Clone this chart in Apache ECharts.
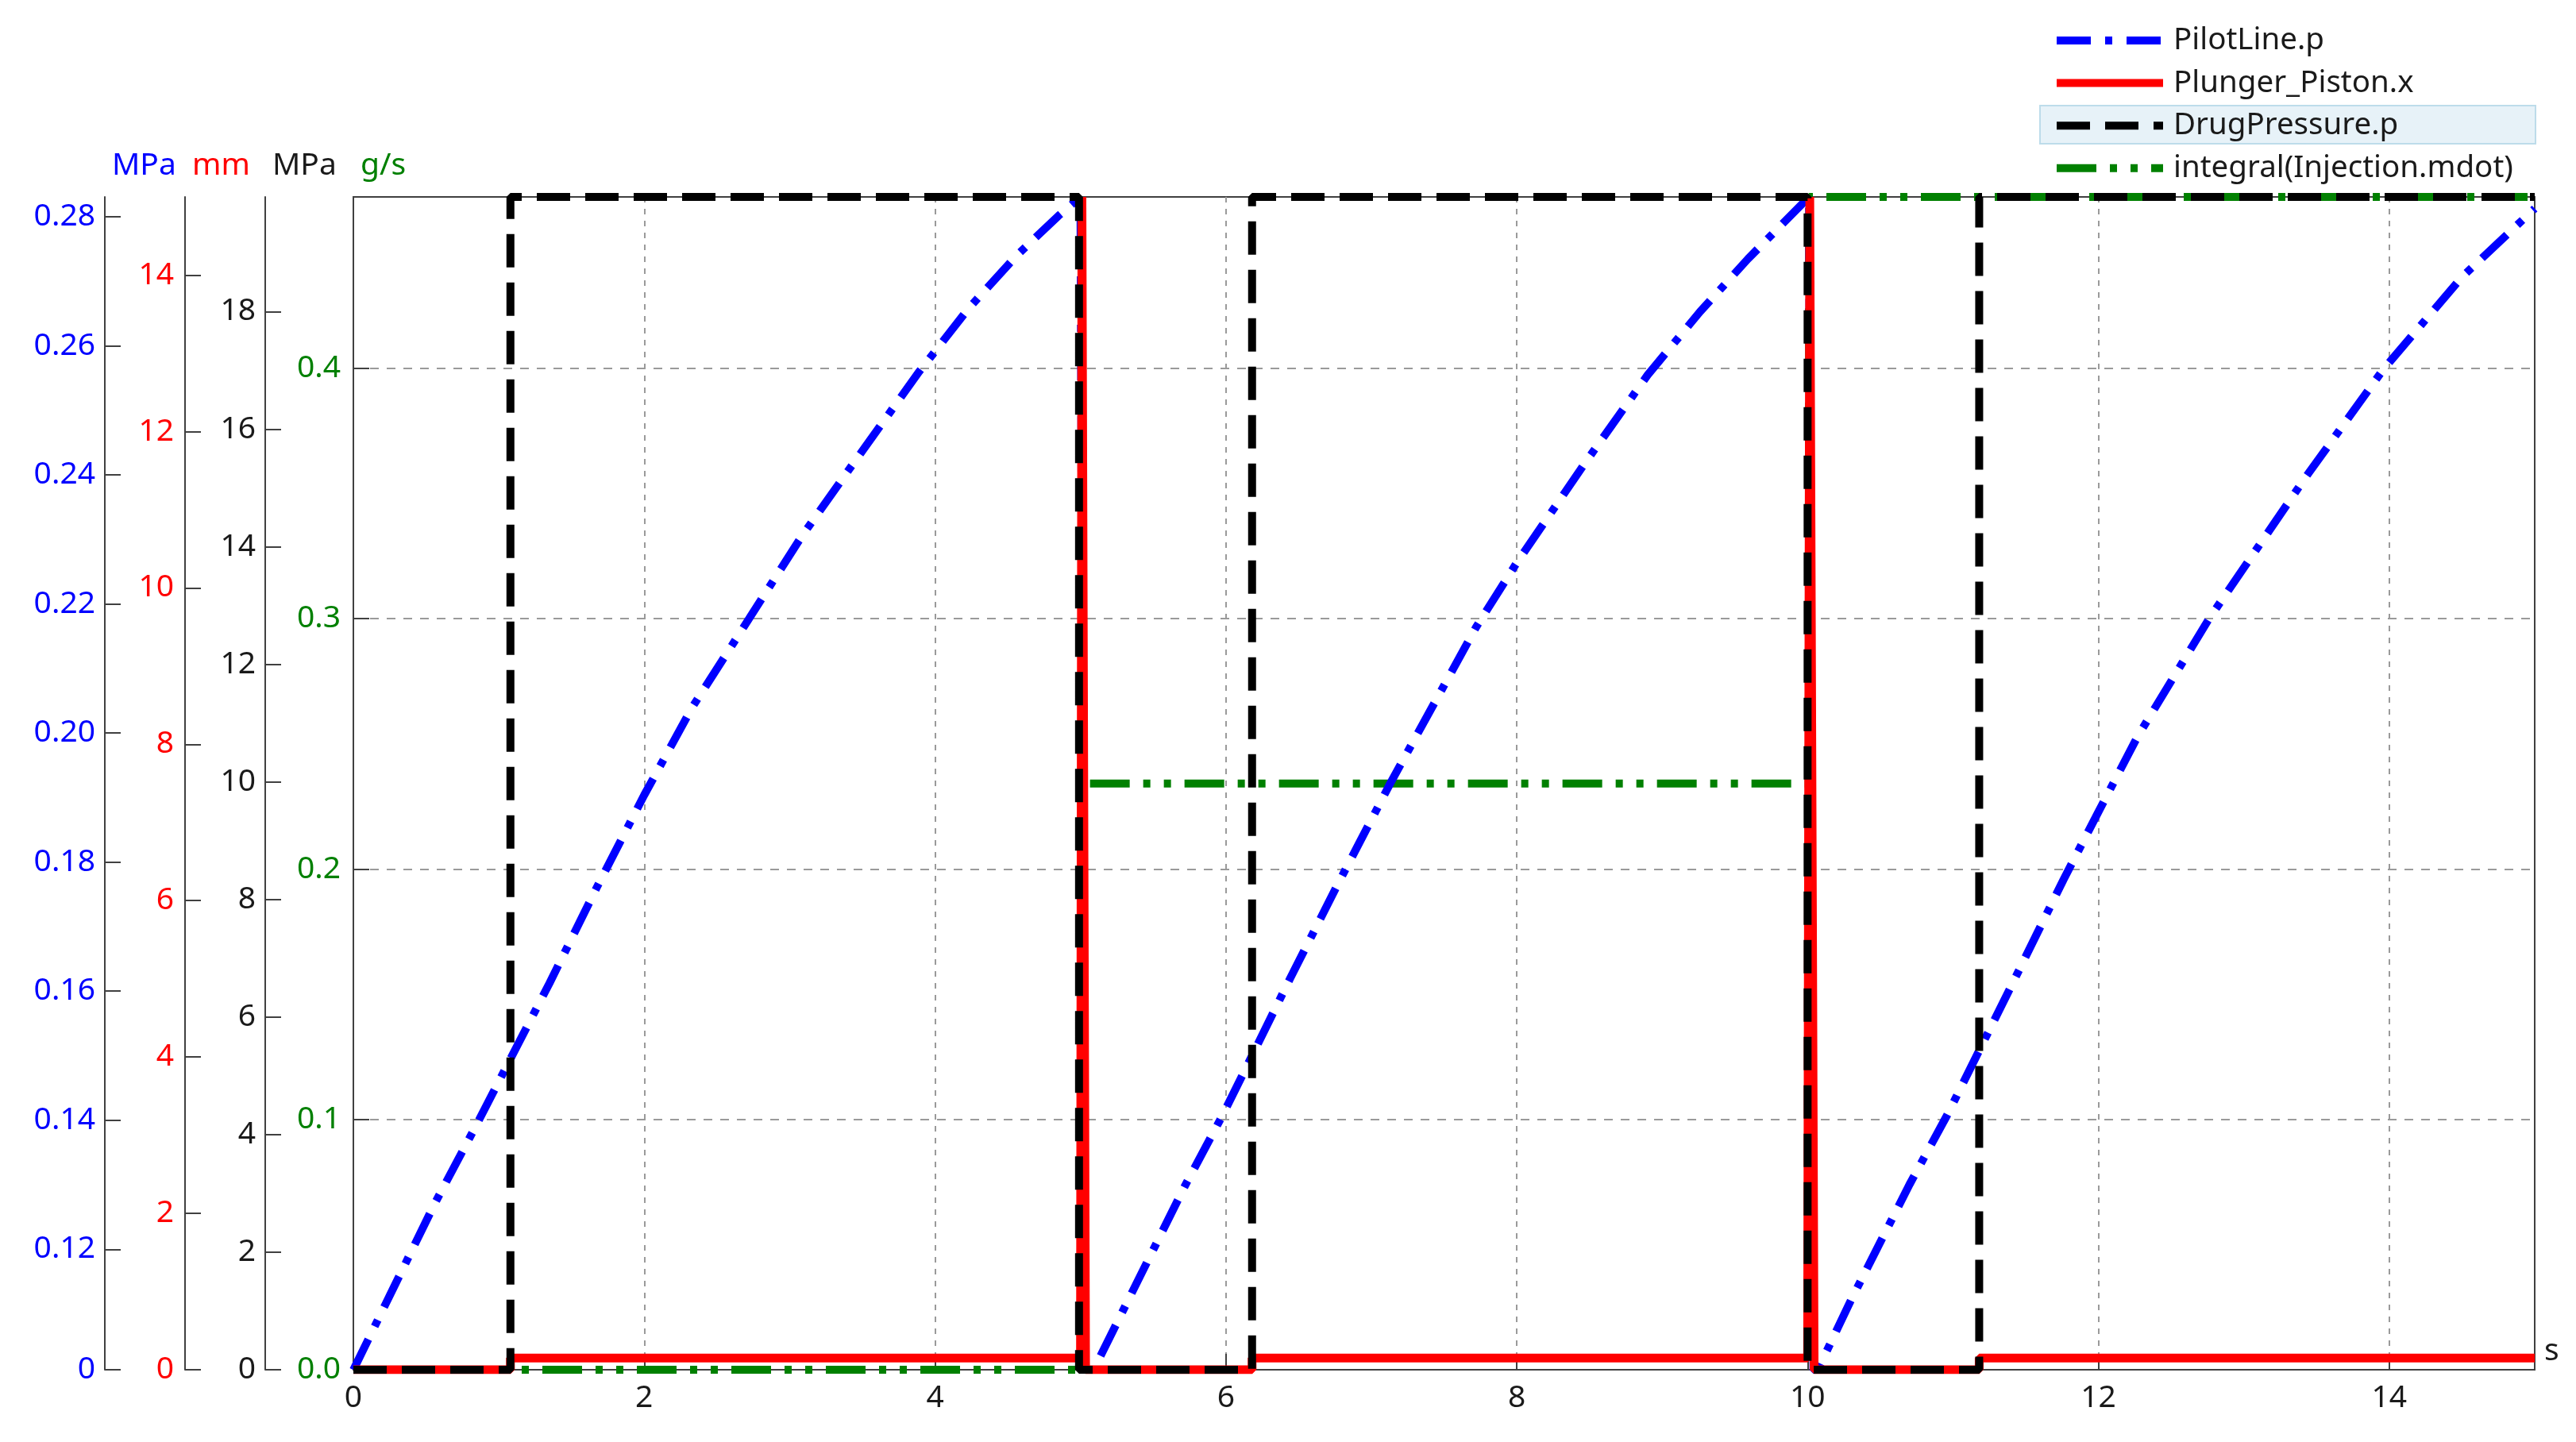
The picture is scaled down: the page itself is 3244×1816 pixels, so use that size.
<!DOCTYPE html>
<html>
<head>
<meta charset="utf-8">
<script src="https://cdn.jsdelivr.net/npm/echarts@6/dist/echarts.min.js"></script>
<style>
html,body{margin:0;padding:0;background:#ffffff;}
#chart{width:3244px;height:1816px;}
</style>
</head>
<body>
<div id="chart"></div>
<script>
// ---------------- data ----------------
// PilotLine.p  [MPa]
const pilotT = [0, 0.56, 0.84, 1.08, 1.35, 1.67, 2.00, 2.33, 2.72, 3.08, 3.41, 3.89, 4.23, 4.56, 4.85, 5.00,
                5.03, 5.09, 5.33, 5.72, 5.98, 6.18, 6.44, 6.77, 7.13, 7.72, 8.00, 8.48, 8.90, 9.26, 9.59, 10.01,
                10.04, 10.07, 10.30, 10.70, 10.96, 11.18, 11.42, 11.76, 12.00, 12.27, 12.76, 13.42, 13.96, 14.50, 15.00];
const pilotP = [0.1013, 0.1271, 0.1390, 0.1495, 0.1613, 0.1759, 0.1904, 0.2040, 0.2177, 0.2304, 0.2409, 0.2560, 0.2658, 0.2740, 0.2802, 0.2831,
                0.1013, 0.1013, 0.1122, 0.1299, 0.1409, 0.1500, 0.1619, 0.1766, 0.1922, 0.2164, 0.2264, 0.2422, 0.2555, 0.2653, 0.2735, 0.2831,
                0.1013, 0.1013, 0.1122, 0.1300, 0.1408, 0.1508, 0.1617, 0.1773, 0.1878, 0.1995, 0.2177, 0.2395, 0.2564, 0.2707, 0.2813];

// Plunger_Piston.x [mm]
const plungerT = [0, 1.08, 1.08, 5.00, 5.01, 5.035, 6.18, 6.18, 10.00, 10.015, 10.045, 11.18, 11.18, 15.0];
const plungerX = [0, 0,    0.15, 0.15, 15.0, 0,     0,    0.15, 0.15,  15.0,   0,      0,     0.15,  0.15];

// DrugPressure.p [MPa]
const drugT = [0, 1.08, 1.08,  4.99,  4.99, 6.18, 6.18,  10.00, 10.00, 11.18, 11.18, 15.0];
const drugP = [0, 0,    19.95, 19.95, 0,    0,    19.95, 19.95, 0,     0,     19.95, 19.95];

// integral(Injection.mdot) [g/s]
const injT = [0, 5.02, 5.02,   10.01,  10.01,  15.0];
const injM = [0, 0,    0.2342, 0.2342, 0.4685, 0.4685];

// axis tick values and tick labels
const timeTicks = [0, 2, 4, 6, 8, 10, 12, 14];
const timeLabels = ['0', '2', '4', '6', '8', '10', '12', '14'];
const blueTicks = [0.101325, 0.12, 0.14, 0.16, 0.18, 0.20, 0.22, 0.24, 0.26, 0.28];
const blueLabels = ['0', '0.12', '0.14', '0.16', '0.18', '0.20', '0.22', '0.24', '0.26', '0.28'];
const redTicks = [0, 2, 4, 6, 8, 10, 12, 14];
const redLabels = ['0', '2', '4', '6', '8', '10', '12', '14'];
const blackTicks = [0, 2, 4, 6, 8, 10, 12, 14, 16, 18];
const blackLabels = ['0', '2', '4', '6', '8', '10', '12', '14', '16', '18'];
const greenTicks = [0, 0.1, 0.2, 0.3, 0.4];
const greenLabels = ['0.0', '0.1', '0.2', '0.3', '0.4'];

const seriesNames = ['PilotLine.p', 'Plunger_Piston.x', 'DrugPressure.p', 'integral(Injection.mdot)'];
const unitNames = ['MPa', 'mm', 'MPa', 'g/s'];

// ---------------- styling ----------------
const FONT = '"Noto Sans", "Open Sans", "DejaVu Sans", sans-serif';
const FS = 39;
const AX = '#404040';
const C_BLUE = '#0000ff', C_RED = '#ff0000', C_BLACK = '#000000', C_GREEN = '#008000';

function pairs(t, v) { return t.map((x, i) => [x, v[i]]); }
function labelFmt(ticks, labels) {
  return function (val) {
    for (let i = 0; i < ticks.length; i++) {
      if (Math.abs(ticks[i] - val) < 1e-6) return labels[i];
    }
    return '';
  };
}

function yAxisDef(min, max, offset, ticks, labels, unit, color, labelMargin, showSplit) {
  return {
    type: 'value', position: 'left', offset: offset, min: min, max: max,
    name: unit, nameLocation: 'end', nameGap: 39,
    nameTextStyle: { color: color, fontSize: FS, fontFamily: FONT, align: 'left', verticalAlign: 'middle', padding: [0, 0, 0, 9] },
    axisLine: { show: true, onZero: false, lineStyle: { color: AX, width: 2 } },
    axisTick: { show: true, inside: true, length: 20, customValues: ticks, lineStyle: { color: AX, width: 2 } },
    axisLabel: { show: true, customValues: ticks, formatter: labelFmt(ticks, labels), color: color, fontSize: FS, fontFamily: FONT, margin: labelMargin },
    splitLine: { show: showSplit, lineStyle: { color: '#9a9a9a', width: 2, type: [11, 10] } }
  };
}

const chart = echarts.init(document.getElementById('chart'), null, { renderer: 'canvas' });

const option = {
  animation: false,
  backgroundColor: '#ffffff',
  textStyle: { fontFamily: FONT },
  grid: {
    left: 445, right: 52, top: 248, bottom: 91,
    show: true, borderColor: AX, borderWidth: 2, backgroundColor: 'rgba(0,0,0,0)',
    outerBoundsMode: 'none', containLabel: false
  },
  legend: {
    orient: 'vertical', left: 2580, top: 25,
    itemWidth: 134, itemHeight: 20, itemGap: 11.6,
    selectedMode: false, z: 5,
    data: seriesNames,
    textStyle: { color: '#1a1a1a', fontSize: 38.5, fontFamily: FONT, lineHeight: 42, padding: [0, 0, 0, 8] },
    itemStyle: { opacity: 0 },
    lineStyle: { width: 10 }
  },
  graphic: [{
    type: 'rect', left: 2568, top: 132, z: 1,
    shape: { width: 624, height: 48 },
    style: { fill: '#e7f2f8', stroke: '#bddcea', lineWidth: 2 }
  }],
  xAxis: {
    type: 'value', min: 0, max: 15,
    name: 's', nameLocation: 'end', nameGap: 12,
    nameTextStyle: { color: '#1a1a1a', fontSize: FS, fontFamily: FONT, align: 'left', verticalAlign: 'bottom', padding: [0, 0, 4, 0] },
    axisLine: { show: true, onZero: false, lineStyle: { color: AX, width: 2 } },
    axisTick: { show: true, inside: true, length: 20, customValues: timeTicks, lineStyle: { color: AX, width: 2 } },
    axisLabel: { show: true, customValues: timeTicks, formatter: labelFmt(timeTicks, timeLabels), color: '#1a1a1a', fontSize: FS, fontFamily: FONT, margin: 16 },
    splitLine: { show: true, lineStyle: { color: '#9a9a9a', width: 2, type: [7, 8] } }
  },
  yAxis: [
    yAxisDef(0.101325, 0.2831, 313, blueTicks, blueLabels, unitNames[0], C_BLUE, 12, false),
    yAxisDef(0, 15, 212, redTicks, redLabels, unitNames[1], C_RED, 14, false),
    yAxisDef(0, 19.95, 111, blackTicks, blackLabels, unitNames[2], '#1a1a1a', 12, false),
    yAxisDef(0, 0.4685, 0, greenTicks, greenLabels, unitNames[3], C_GREEN, 16, true)
  ],
  series: [
    {
      name: seriesNames[0], type: 'line', yAxisIndex: 0, xAxisIndex: 0,
      data: pairs(pilotT, pilotP), symbol: 'none', showSymbol: false, clip: true, z: 2.5,
      itemStyle: { color: C_BLUE },
      lineStyle: { color: C_BLUE, width: 10, type: [43, 18, 9, 18], cap: 'butt' }
    },
    {
      name: seriesNames[1], type: 'line', yAxisIndex: 1, xAxisIndex: 0,
      data: pairs(plungerT, plungerX), symbol: 'none', showSymbol: false, clip: true, z: 3,
      itemStyle: { color: C_RED },
      lineStyle: { color: C_RED, width: 11, type: 'solid', cap: 'butt' }
    },
    {
      name: seriesNames[2], type: 'line', yAxisIndex: 2, xAxisIndex: 0,
      data: pairs(drugT, drugP), symbol: 'none', showSymbol: false, clip: true, z: 4,
      itemStyle: { color: C_BLACK },
      lineStyle: { color: C_BLACK, width: 10, type: [42, 19], cap: 'butt' }
    },
    {
      name: seriesNames[3], type: 'line', yAxisIndex: 3, xAxisIndex: 0,
      data: pairs(injT, injM), symbol: 'none', showSymbol: false, clip: true, z: 2,
      itemStyle: { color: C_GREEN },
      lineStyle: { color: C_GREEN, width: 10, type: [50, 17, 9, 17, 9, 17], cap: 'butt' }
    }
  ]
};

chart.setOption(option);
</script>
</body>
</html>
